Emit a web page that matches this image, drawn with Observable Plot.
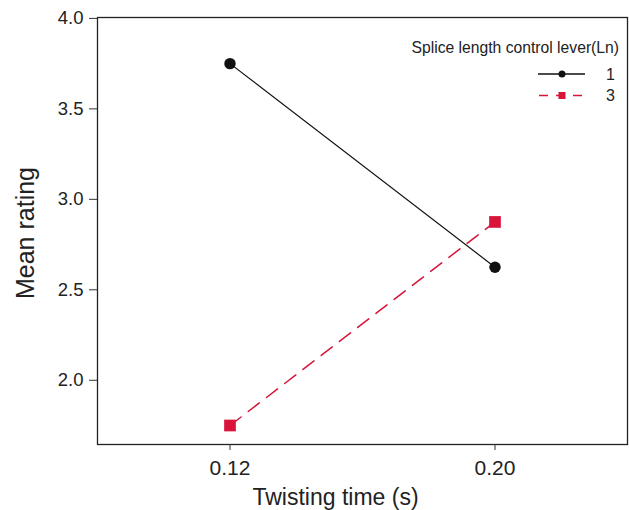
<!DOCTYPE html>
<html>
<head>
<meta charset="utf-8">
<script src="https://cdn.jsdelivr.net/npm/d3@7"></script>
<script src="https://cdn.jsdelivr.net/npm/@observablehq/plot@0.6"></script>
<style>
  html, body { margin: 0; padding: 0; background: #fff; }
  #wrap { position: relative; width: 629px; height: 510px; font-family: Arial, "Liberation Sans", sans-serif; }
  #legend { position: absolute; left: 0; top: 0; pointer-events: none; }
</style>
</head>
<body>
<div id="wrap"></div>
<script>
// Twisting time levels (s)
const twistingTimes = [0.12, 0.20];
// Mean rating for splice length control lever level 1
const meanLevel1 = [3.75, 2.625];
// Mean rating for splice length control lever level 3
const meanLevel3 = [1.75, 2.875];
const leverLevels = ["1", "3"];
const leverColors = ["#111111", "#d8143a"];
const xTickValues = [0.12, 0.20];
const yTickValues = [2.0, 2.5, 3.0, 3.5, 4.0];
const xTitle = "Twisting time (s)";
const yTitle = "Mean rating";
const legendTitle = "Splice length control lever(Ln)";

const rows = [
  ...twistingTimes.map((t, i) => ({time: t, rating: meanLevel1[i], lever: leverLevels[0]})),
  ...twistingTimes.map((t, i) => ({time: t, rating: meanLevel3[i], lever: leverLevels[1]}))
];
const lvl1 = rows.filter(d => d.lever === "1");
const lvl3 = rows.filter(d => d.lever === "3");

const chart = Plot.plot({
  width: 629,
  height: 510,
  marginLeft: 97,
  marginRight: 2,
  marginTop: 17,
  marginBottom: 66,
  style: {fontFamily: "Arial, 'Liberation Sans', sans-serif", background: "transparent", color: "#222"},
  x: {domain: [0.08, 0.24]},
  y: {domain: [1.645, 4.005]},
  marks: [
    Plot.frame({stroke: "#222", strokeWidth: 1.3}),
    Plot.axisX({ticks: xTickValues, tickFormat: d3.format(".2f"), tickSize: 6, tickPadding: 10, fontSize: 21, label: null, stroke: "#333"}),
    Plot.axisY({ticks: yTickValues, tickFormat: d3.format(".1f"), tickSize: 8, tickPadding: 6, fontSize: 18.5, label: null, stroke: "#333"}),
    Plot.line(lvl1, {x: "time", y: "rating", stroke: leverColors[0], strokeWidth: 1.2}),
    Plot.line(lvl3, {x: "time", y: "rating", stroke: leverColors[1], strokeWidth: 1.5, strokeDasharray: "14,9"}),
    Plot.dot(lvl1, {x: "time", y: "rating", r: 5.7, fill: leverColors[0], stroke: "none"}),
    Plot.dot(lvl3, {x: "time", y: "rating", r: 6.6, symbol: "square", fill: leverColors[1], stroke: "none"}),
    Plot.text([xTitle], {text: d => d, frameAnchor: "bottom", textAnchor: "middle", lineAnchor: "middle", dy: 53, dx: -27, fontSize: 23, fill: "#222"}),
    Plot.text([yTitle], {text: d => d, frameAnchor: "left", textAnchor: "middle", lineAnchor: "middle", dx: -72, dy: 2, rotate: -90, fontSize: 25, fill: "#222"})
  ]
});
document.getElementById("wrap").appendChild(chart);

// Legend drawn inside the upper right of the panel
const leg = d3.select("#wrap").append("svg")
  .attr("id", "legend").attr("width", 629).attr("height", 510);
leg.append("text").attr("x", 619).attr("y", 53).attr("text-anchor", "end")
  .attr("font-size", 15.7).attr("fill", "#222").text(legendTitle);
leverLevels.forEach((lv, i) => {
  const y = 74 + i * 21.5;
  const g = leg.append("g");
  g.append("line").attr("x1", 538).attr("x2", 585).attr("y1", y).attr("y2", y)
    .attr("stroke", leverColors[i]).attr("stroke-width", i ? 1.5 : 1.3)
    .attr("stroke-dasharray", i ? "9,8" : null)
    .attr("stroke-dashoffset", i ? -1 : null);
  if (i === 0) g.append("circle").attr("cx", 562).attr("cy", y).attr("r", 3.5).attr("fill", leverColors[i]);
  else g.append("rect").attr("x", 558.5).attr("y", y - 3.5).attr("width", 7).attr("height", 7).attr("fill", leverColors[i]);
  g.append("text").attr("x", 606).attr("y", y + 5.5).attr("font-size", 16).attr("fill", "#222").text(lv);
});
</script>
</body>
</html>
